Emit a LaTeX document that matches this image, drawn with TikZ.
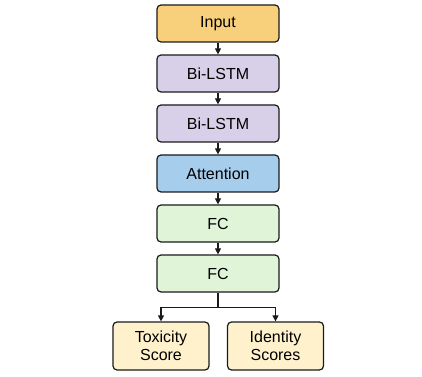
\documentclass[tikz,border=0pt]{standalone}
\usepackage{fontspec}
\setmainfont{Liberation Sans}
\usetikzlibrary{arrows.meta}
\definecolor{cinput}{HTML}{F8D07C}
\definecolor{clstm}{HTML}{D8D0E8}
\definecolor{catt}{HTML}{A6CDEC}
\definecolor{cfc}{HTML}{E0F5D8}
\definecolor{cout}{HTML}{FEF1CC}
\definecolor{cline}{HTML}{1A1A1A}
\begin{document}
\begin{tikzpicture}[x=1bp,y=1bp,
  blk/.style={draw=cline,line width=1.2bp,rounded corners=4bp,minimum width=122bp,minimum height=37bp,inner sep=0pt,align=center,font=\fontsize{16bp}{18bp}\selectfont},
  outblk/.style={blk,minimum width=96bp,minimum height=48bp,fill=cout},
  conn/.style={draw=cline,line width=1.2bp},
  arr/.style={conn,-{Triangle[length=6bp,width=6bp]}}]
\useasboundingbox (0,0) rectangle (422,377);
\node[blk,fill=cinput] (in) at (218,377-23.5) {Input};
\node[blk,fill=clstm] (l1) at (218,377-73.5) {Bi-LSTM};
\node[blk,fill=clstm] (l2) at (218,377-123.5) {Bi-LSTM};
\node[blk,fill=catt] (at) at (218,377-173.5) {Attention};
\node[blk,fill=cfc] (f1) at (218,377-223.5) {FC};
\node[blk,fill=cfc] (f2) at (218,377-273.5) {FC};
\node[outblk] (tox) at (161,377-346) {Toxicity\\Score};
\node[outblk] (ids) at (275.5,377-346) {Identity\\Scores};
\draw[arr] (in) -- (l1);
\draw[arr] (l1) -- (l2);
\draw[arr] (l2) -- (at);
\draw[arr] (at) -- (f1);
\draw[arr] (f1) -- (f2);
\draw[conn] (f2.south) -- ++(0,-15) coordinate (br);
\draw[arr] (br) -| (tox.north);
\draw[arr] (br) -| (ids.north);
\end{tikzpicture}
\end{document}
